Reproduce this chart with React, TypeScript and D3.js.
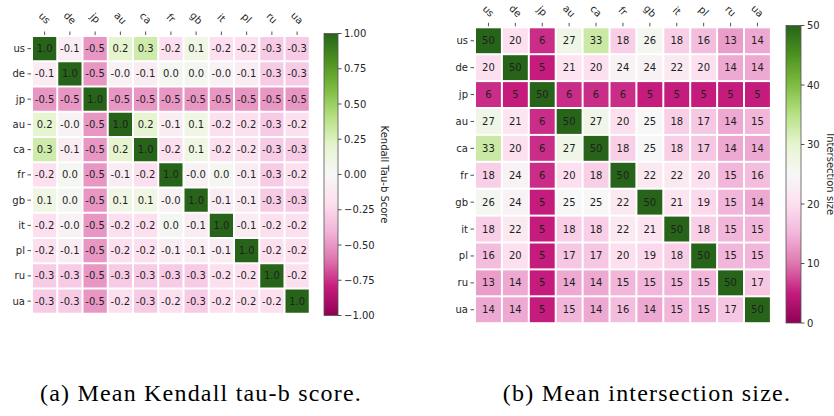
import React from "react";
import * as d3 from "d3";

const countries = ["us", "de", "jp", "au", "ca", "fr", "gb", "it", "pl", "ru", "ua"];

const kendall: number[][] = [
  [1.0, -0.1, -0.5, 0.2, 0.3, -0.2, 0.1, -0.2, -0.2, -0.3, -0.3],
  [-0.1, 1.0, -0.5, -0.04, -0.1, 0.03, 0.03, -0.04, -0.1, -0.3, -0.3],
  [-0.5, -0.5, 1.0, -0.5, -0.5, -0.5, -0.5, -0.5, -0.5, -0.5, -0.5],
  [0.2, -0.04, -0.5, 1.0, 0.2, -0.1, 0.1, -0.2, -0.2, -0.3, -0.2],
  [0.3, -0.1, -0.5, 0.2, 1.0, -0.2, 0.1, -0.2, -0.2, -0.3, -0.3],
  [-0.2, 0.03, -0.5, -0.1, -0.2, 1.0, -0.04, 0.03, -0.1, -0.3, -0.2],
  [0.1, 0.03, -0.5, 0.1, 0.1, -0.04, 1.0, -0.1, -0.1, -0.3, -0.3],
  [-0.2, -0.04, -0.5, -0.2, -0.2, 0.03, -0.1, 1.0, -0.1, -0.2, -0.2],
  [-0.2, -0.1, -0.5, -0.2, -0.2, -0.1, -0.1, -0.1, 1.0, -0.2, -0.2],
  [-0.3, -0.3, -0.5, -0.3, -0.3, -0.3, -0.3, -0.2, -0.2, 1.0, -0.2],
  [-0.3, -0.3, -0.5, -0.2, -0.3, -0.2, -0.3, -0.2, -0.2, -0.2, 1.0],
];

const intersection: number[][] = [
  [50, 20, 6, 27, 33, 18, 26, 18, 16, 13, 14],
  [20, 50, 5, 21, 20, 24, 24, 22, 20, 14, 14],
  [6, 5, 50, 6, 6, 6, 5, 5, 5, 5, 5],
  [27, 21, 6, 50, 27, 20, 25, 18, 17, 14, 15],
  [33, 20, 6, 27, 50, 18, 25, 18, 17, 14, 14],
  [18, 24, 6, 20, 18, 50, 22, 22, 20, 15, 16],
  [26, 24, 5, 25, 25, 22, 50, 21, 19, 15, 14],
  [18, 22, 5, 18, 18, 22, 21, 50, 18, 15, 15],
  [16, 20, 5, 17, 17, 20, 19, 18, 50, 15, 15],
  [13, 14, 5, 14, 14, 15, 15, 15, 15, 50, 17],
  [14, 14, 5, 15, 14, 16, 14, 15, 15, 17, 50],
];

const kendallTicks = [1.0, 0.75, 0.5, 0.25, 0.0, -0.25, -0.5, -0.75, -1.0];
const intersectionTicks = [0, 10, 20, 30, 40, 50];

const piyg = ["#8e0152", "#c51b7d", "#de77ae", "#f1b6da", "#fde0ef", "#f7f7f7", "#e6f5d0", "#b8e186", "#7fbc41", "#4d9221", "#276419"];
const piygScale = d3.scaleLinear<string>().domain(d3.range(11).map((i) => i / 10)).range(piyg).interpolate(d3.interpolateRgb).clamp(true);

const FONT = "DejaVu Sans, sans-serif";
const SERIF = "Liberation Serif, DejaVu Serif, serif";
const TXT = "#262626";

interface HMProps {
  id: string;
  data: number[][];
  vmin: number;
  vmax: number;
  x0: number;
  y0: number;
  cell: number;
  labelY: number;
  cbX: number;
  cbTop: number;
  cbBottom: number;
  cbW: number;
  ticks: number[];
  tickFmt: (v: number) => string;
  cellFmt: (v: number) => string;
  title: string;
  titleX: number;
}

function Heatmap(p: HMProps) {
  const n = countries.length;
  const x = d3.scaleBand().domain(countries).range([p.x0, p.x0 + p.cell * n]);
  const y = d3.scaleBand().domain(countries).range([p.y0, p.y0 + p.cell * n]);
  const norm = d3.scaleLinear().domain([p.vmin, p.vmax]).range([0, 1]);
  const cy = d3.scaleLinear().domain([p.vmin, p.vmax]).range([p.cbBottom, p.cbTop]);
  const stops = d3.range(0, 101).map((i) => i / 100);
  const gap = 1;
  return (
    <g>
      <defs>
        <linearGradient id={p.id} x1="0" y1="1" x2="0" y2="0">
          {stops.map((t) => (
            <stop key={t} offset={t} stopColor={piygScale(t)} />
          ))}
        </linearGradient>
      </defs>
      {p.data.map((row, i) =>
        row.map((v, j) => {
          const cx = x(countries[j])!;
          const ry = y(countries[i])!;
          return (
            <g key={`${i}-${j}`}>
              <rect x={cx + gap} y={ry + gap} width={x.bandwidth() - 2 * gap} height={y.bandwidth() - 2 * gap} fill={piygScale(norm(v))} />
              <text x={cx + x.bandwidth() / 2} y={ry + y.bandwidth() / 2} textAnchor="middle" dominantBaseline="central" fontSize={10} fontFamily={FONT} fill="#1f1f1f">
                {p.cellFmt(v)}
              </text>
            </g>
          );
        })
      )}
      {countries.map((c) => {
        const cx = x(c)! + x.bandwidth() / 2;
        return (
          <g key={"c" + c}>
            <line x1={cx} x2={cx} y1={p.y0 - 1} y2={p.y0 - 4.5} stroke={TXT} strokeWidth={0.8} />
            <text transform={`translate(${cx},${p.labelY}) rotate(45)`} textAnchor="middle" dominantBaseline="central" fontSize={10} fontFamily={FONT} fill={TXT}>
              {c}
            </text>
          </g>
        );
      })}
      {countries.map((c) => {
        const ry = y(c)! + y.bandwidth() / 2;
        return (
          <g key={"r" + c}>
            <line x1={p.x0 - 1} x2={p.x0 - 4.5} y1={ry} y2={ry} stroke={TXT} strokeWidth={0.8} />
            <text x={p.x0 - 7} y={ry} textAnchor="end" dominantBaseline="central" fontSize={10} fontFamily={FONT} fill={TXT}>
              {c}
            </text>
          </g>
        );
      })}
      <rect x={p.cbX} y={p.cbTop} width={p.cbW} height={p.cbBottom - p.cbTop} fill={`url(#${p.id})`} stroke="#555" strokeWidth={0.8} />
      {p.ticks.map((t) => (
        <g key={"t" + t}>
          <line x1={p.cbX + p.cbW} x2={p.cbX + p.cbW + 3.5} y1={cy(t)} y2={cy(t)} stroke={TXT} strokeWidth={0.8} />
          <text x={p.cbX + p.cbW + 6} y={cy(t)} dominantBaseline="central" fontSize={10} fontFamily={FONT} fill={TXT}>
            {p.tickFmt(t)}
          </text>
        </g>
      ))}
      <text transform={`translate(${p.titleX},${(p.cbTop + p.cbBottom) / 2}) rotate(90)`} textAnchor="middle" dominantBaseline="central" fontSize={10} fontFamily={FONT} fill={TXT}>
        {p.title}
      </text>
    </g>
  );
}

const minus = (s: string) => s.replace("-", "\u2212");

export default function App() {
  return (
    <svg width={834} height={416} style={{ position: "absolute", left: 0, top: 0, background: "#fff" }}>
      <rect width={834} height={416} fill="#fff" />
      <Heatmap
        id="gk"
        data={kendall}
        vmin={-1}
        vmax={1}
        x0={32}
        y0={36}
        cell={25.25}
        labelY={18}
        cbX={324}
        cbTop={33.5}
        cbBottom={315.5}
        cbW={14}
        ticks={kendallTicks}
        tickFmt={(v) => minus(v.toFixed(2))}
        cellFmt={(v) => v.toFixed(1)}
        title="Kendall Tau-b Score"
        titleX={384}
      />
      <Heatmap
        id="gi"
        data={intersection}
        vmin={0}
        vmax={50}
        x0={475}
        y0={27.3}
        cell={26.9}
        labelY={11}
        cbX={786}
        cbTop={25.5}
        cbBottom={323}
        cbW={15}
        ticks={intersectionTicks}
        tickFmt={(v) => String(v)}
        cellFmt={(v) => String(Math.round(v))}
        title="Intersection size"
        titleX={830}
      />
      <text x={201} y={401} textAnchor="middle" fontSize={24} letterSpacing={1.2} fontFamily={SERIF} fill="#000">
        (a) Mean Kendall tau-b score.
      </text>
      <text x={647} y={401} textAnchor="middle" fontSize={24} letterSpacing={1.2} fontFamily={SERIF} fill="#000">
        (b) Mean intersection size.
      </text>
    </svg>
  );
}
